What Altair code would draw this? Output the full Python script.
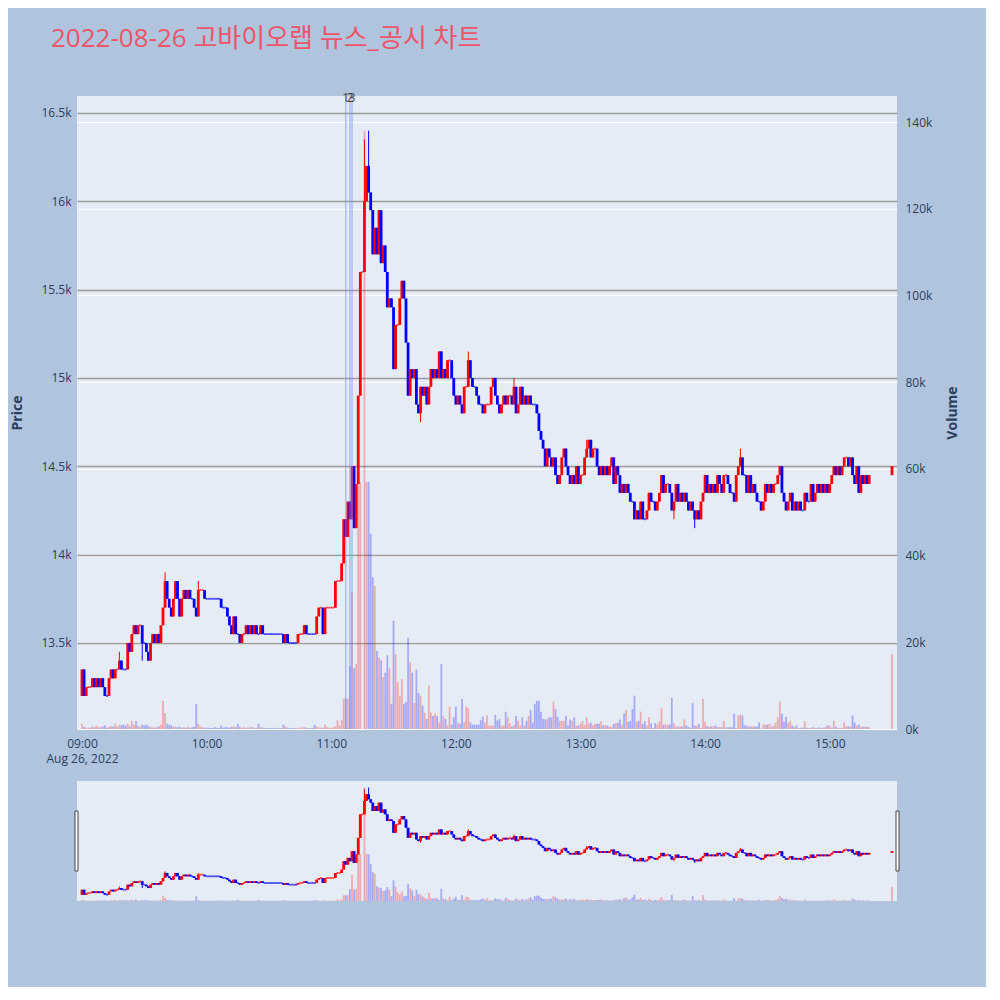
import pandas as pd
import altair as alt

# %%
# 1분봉 종가 (09:00 ~ 15:19), 시가는 직전 종가
first_open = 13200
closes = [
    13350, 13200, 13250, 13250, 13250, 13300, 13250, 13300, 13250, 13300,
    13250, 13200, 13200, 13300, 13350, 13300, 13350, 13350, 13400, 13350,
    13350, 13350, 13500, 13450, 13550, 13600, 13550, 13600, 13600, 13500,
    13500, 13450, 13400, 13500, 13550, 13500, 13550, 13500, 13600, 13700,
    13850, 13750, 13700, 13650, 13750, 13850, 13750, 13650, 13750, 13800,
    13750, 13800, 13750, 13750, 13700, 13650, 13800, 13800, 13800, 13750,
    13750, 13750, 13750, 13750, 13750, 13750, 13750, 13700, 13700, 13700,
    13650, 13600, 13550, 13650, 13550, 13550, 13500, 13550, 13550, 13600,
    13550, 13600, 13550, 13600, 13550, 13550, 13600, 13550, 13550, 13550,
    13550, 13550, 13550, 13550, 13550, 13550, 13550, 13500, 13550, 13500,
    13500, 13500, 13500, 13500, 13550, 13550, 13550, 13600, 13550, 13550,
    13550, 13550, 13550, 13650, 13700, 13700, 13550, 13700, 13700, 13700,
    13700, 13700, 13850, 13850, 13850, 13950, 14200, 14100, 14300, 14200,
    14500, 14150, 14400, 14900, 15600, 15600, 16000, 16200, 16050, 15950,
    15700, 15850, 15700, 15950, 15650, 15750, 15600, 15400, 15450, 15400,
    15050, 15300, 15300, 15450, 15550, 15450, 15200, 14900, 15050, 15000,
    15050, 14850, 14800, 14950, 14900, 14950, 14850, 14950, 15050, 15000,
    15050, 15000, 15150, 15000, 15050, 15000, 15100, 15100, 15000, 14900,
    14850, 14900, 14850, 14800, 14950, 14950, 15100, 15000, 14950, 14950,
    14900, 14850, 14850, 14800, 14850, 14850, 14850, 14950, 15000, 14900,
    14850, 14800, 14850, 14900, 14850, 14900, 14900, 14850, 14950, 14800,
    14850, 14950, 14850, 14900, 14850, 14900, 14850, 14850, 14850, 14800,
    14700, 14650, 14600, 14500, 14600, 14550, 14500, 14550, 14450, 14400,
    14450, 14550, 14600, 14500, 14450, 14400, 14450, 14400, 14500, 14400,
    14450, 14450, 14550, 14600, 14650, 14550, 14600, 14600, 14500, 14450,
    14500, 14450, 14500, 14450, 14500, 14550, 14400, 14500, 14450, 14350,
    14400, 14350, 14400, 14350, 14300, 14300, 14200, 14250, 14200, 14300,
    14200, 14200, 14250, 14350, 14300, 14300, 14250, 14300, 14350, 14450,
    14350, 14400, 14400, 14350, 14250, 14300, 14400, 14300, 14350, 14300,
    14350, 14300, 14250, 14300, 14250, 14200, 14250, 14200, 14300, 14350,
    14450, 14350, 14400, 14350, 14400, 14350, 14450, 14400, 14350, 14450,
    14450, 14400, 14350, 14350, 14300, 14450, 14500, 14550, 14450, 14450,
    14350, 14450, 14350, 14400, 14350, 14300, 14300, 14250, 14300, 14400,
    14350, 14400, 14350, 14400, 14400, 14450, 14500, 14350, 14300, 14250,
    14300, 14350, 14250, 14300, 14250, 14300, 14250, 14250, 14350, 14300,
    14300, 14400, 14300, 14350, 14400, 14350, 14400, 14350, 14400, 14350,
    14400, 14450, 14500, 14450, 14500, 14450, 14500, 14550, 14550, 14500,
    14550, 14450, 14400, 14500, 14350, 14450, 14400, 14450, 14400, 14450,
]
# 분당 거래량 (천 주)
volumes_k = [
    1.2, 0.5, 0.3, 0.3, 0.3, 0.6, 0.4, 0.8, 0.4, 0.5,
    0.6, 0.8, 0.3, 0.5, 0.7, 0.6, 1.2, 0.5, 1.0, 0.9,
    1.0, 0.8, 1.2, 0.6, 1.8, 1.0, 1.8, 0.7, 0.5, 1.0,
    0.8, 1.0, 0.6, 0.5, 0.4, 0.3, 0.5, 0.6, 1.0, 6.5,
    3.7, 1.2, 1.0, 0.8, 0.6, 0.5, 0.4, 0.5, 0.3, 0.4,
    0.3, 0.5, 0.3, 0.4, 0.5, 5.8, 1.2, 0.6, 0.4, 0.3,
    0.3, 0.3, 0.2, 0.3, 0.4, 0.3, 0.2, 0.8, 0.3, 0.4,
    0.4, 0.3, 0.5, 0.6, 0.4, 1.2, 0.5, 0.3, 0.4, 0.3,
    0.3, 0.5, 0.4, 0.3, 0.3, 1.2, 0.5, 0.3, 0.2, 0.2,
    0.2, 0.3, 0.2, 0.2, 0.3, 0.2, 0.2, 1.0, 0.6, 0.3,
    0.2, 0.2, 0.2, 0.2, 0.3, 0.4, 0.3, 0.5, 0.3, 0.2,
    0.2, 0.3, 1.0, 0.6, 0.4, 0.3, 0.3, 1.0, 0.4, 0.3,
    0.3, 0.4, 0.6, 2.0, 0.8, 2.0, 7.0, 7.0, 7.0, 14.6,
    31.5, 14.0, 15.0, 75.0, 57.0, 0.0, 138.0, 57.0, 57.0, 45.0,
    35, 33, 18, 16.5, 15.8, 12, 13, 17, 14, 5.8,
    25, 17.3, 10.8, 7.7, 11.5, 5.8, 6.2, 21, 15.4, 13,
    6, 13.7, 8.3, 7.7, 5.4, 3.8, 2.3, 10, 3.8, 3,
    3.5, 3, 1.5, 15, 2.9, 2.3, 0.8, 5.2, 1, 2.7,
    5.2, 1.5, 1.2, 6.9, 1.7, 5.2, 4.8, 1.5, 1, 1,
    1, 1, 2, 2.9, 1.5, 3.2, 0.8, 0.8, 0.8, 3.3,
    2, 2.3, 0.8, 0.8, 4, 2.7, 1.3, 0.6, 1, 3,
    1.9, 0.8, 2.7, 0.8, 1.9, 3, 4.4, 1.5, 5.8, 6.5,
    6.5, 4, 2.3, 2.2, 2.3, 2.7, 2.7, 6.3, 4.6, 2.8,
    1.9, 1.9, 1.9, 3, 0.8, 2.2, 1.9, 2.7, 0.8, 0.8,
    1.3, 1.8, 0.9, 2.7, 1.3, 1.5, 0.8, 1.2, 1.2, 1.2,
    1.8, 0.8, 0.9, 0.8, 0.6, 0.5, 1.2, 1.4, 1.4, 2.2,
    1, 3.6, 4.4, 1.7, 1.9, 4.6, 7.7, 1.7, 1.9, 4,
    1.2, 1.8, 0.8, 2.7, 1.3, 0.2, 1.4, 1, 1.8, 4.8,
    1, 1, 1, 1, 7.2, 1.3, 0.6, 0.6, 0.6, 0.6,
    2.2, 0.8, 0.5, 0.3, 6, 0.8, 0.8, 1.2, 0.3, 7,
    1.7, 0.6, 0.6, 0.6, 0.6, 0.8, 0.5, 0.4, 0.4, 1.9,
    0.4, 0.4, 0.4, 0.4, 3.5, 0.2, 3.1, 3.3, 3.1, 0.8,
    0.8, 0.6, 0.6, 0.6, 0.6, 0.6, 1.5, 0.1, 1, 1,
    1, 1.2, 0.5, 0.8, 1.5, 2.7, 6.3, 3.5, 1.7, 2.8,
    1.5, 1.8, 0.8, 0.5, 0.8, 0.2, 0.3, 0.3, 1.8, 0.3,
    0.2, 0.3, 0.4, 0.3, 0.3, 0.4, 0.2, 0.3, 0.5, 0.8,
    0.8, 0.3, 1.9, 0.5, 0.2, 0.2, 0.3, 1.5, 0.6, 0.6,
    0.6, 3.1, 1.5, 0.8, 1, 0.5, 0.5, 0.5, 0.5, 0.5,
]
# 15:30 동시호가
close_1530 = 14500
volume_1530_k = 17.3

# 꼬리 (분, 고가/저가)
wick_minutes = [18, 29, 40, 56, 136, 138, 154, 163, 186, 208, 243, 285, 295, 317]
wick_prices = [13450, 13400, 13900, 13850, 16350, 16400, 15550, 14750, 15150, 15000,
               14650, 14200, 14150, 14600]

# 뉴스/공시 시점
news_times = ['11:07', '11:09', '11:10']
news_labels = ['1', '2', '3']

# %%
minutes = list(range(len(closes))) + [390]
all_close = closes + [close_1530]
all_vol = volumes_k + [volume_1530_k]
opens = [first_open] + all_close[:-1]
wicks = dict(zip(wick_minutes, wick_prices))

rows = []
prev_dir = 'up'
for m, o, c, v in zip(minutes, opens, all_close, all_vol):
    d = 'up' if c > o else ('down' if c < o else prev_dir)
    prev_dir = d
    hi, lo = max(o, c), min(o, c)
    w = wicks.get(m)
    if w is not None:
        hi, lo = max(hi, w), min(lo, w)
    t = pd.Timestamp('2022-08-26 09:00') + pd.Timedelta(minutes=m)
    rows.append({'time': t.strftime('%Y-%m-%dT%H:%M:%S'), 'open': o, 'close': c,
                 'high': hi, 'low': lo, 'volume': v * 1000, 'dir': d,
                 'flat': o == c})
df = pd.DataFrame(rows)

news = pd.DataFrame({'time': ['2022-08-26T' + t + ':00' for t in news_times],
                     'label': news_labels})
handles = pd.DataFrame({'side': ['left', 'right']})

# %%
x_scale = alt.Scale(domain=['2022-08-26T09:00:00', '2022-08-26T15:30:00'], type='time')
price_scale = alt.Scale(domain=[13013, 16596], zero=False, nice=False)
vol_scale = alt.Scale(domain=[0, 146000], nice=False)
color_enc = alt.Color('dir:N', scale=alt.Scale(domain=['up', 'down'], range=['#ff0000', '#0000ff']),
                      legend=None)

x_axis = alt.Axis(title=None, format='%H:%M', tickCount='hour', labelFlush=False,
                  labelPadding=9, labelLineHeight=15, grid=False,
                  labelExpr="hours(datum.value) == 9 ? ['09:00', 'Aug 26, 2022'] : timeFormat(datum.value, '%H:%M')")


def candle_layers(main):
    base = alt.Chart(df)
    x_enc = alt.X('time:T', scale=x_scale, axis=x_axis if main else None)
    if main:
        vol_axis = alt.Axis(orient='right', values=list(range(0, 140001, 20000)), format='~s',
                            title='Volume', titleAngle=270, titlePadding=28, labelPadding=8,
                            grid=True, gridColor='white', gridWidth=1)
        price_axis = alt.Axis(orient='left', values=list(range(13500, 16501, 500)), format='~s',
                              title='Price', titlePadding=16, labelPadding=6,
                              grid=True, gridColor='#9a9a9a', gridWidth=1.3)
    else:
        vol_axis = None
        price_axis = None

    vol = base.mark_bar(size=1.8, opacity=0.28, clip=True).encode(
        x=x_enc,
        y=alt.Y('volume:Q', scale=vol_scale, axis=vol_axis),
        color=color_enc
    )
    wick = base.mark_rule(strokeWidth=1, clip=True).encode(
        x=x_enc,
        y=alt.Y('low:Q', scale=price_scale, axis=price_axis),
        y2='high:Q',
        color=color_enc
    )
    body = base.mark_bar(size=2.8, clip=True).encode(
        x=x_enc,
        y=alt.Y('open:Q', scale=price_scale),
        y2='close:Q',
        color=color_enc
    )
    flat = base.transform_filter('datum.flat').mark_tick(
        orient='horizontal', size=2, thickness=1.8, clip=True).encode(
        x=x_enc,
        y=alt.Y('close:Q', scale=price_scale),
        color=color_enc
    )
    return vol, [wick, body, flat]


vol_main, price_main = candle_layers(True)

news_rule = alt.Chart(news).mark_rule(color='#7b96e6', strokeWidth=1.5, opacity=0.55).encode(
    x=alt.X('time:T', scale=x_scale)
)
news_text = alt.Chart(news).mark_text(fontSize=12, color='#444444', baseline='middle',
                                      font='Open Sans').encode(
    x=alt.X('time:T', scale=x_scale),
    y=alt.value(2),
    text='label:N'
)

main = alt.layer(
    vol_main, alt.layer(*price_main, news_rule, news_text)
).resolve_scale(y='independent').properties(width=820, height=633)

vol_mini, price_mini = candle_layers(False)

slider = alt.layer(
    vol_mini, alt.layer(*price_mini)
).resolve_scale(y='independent').properties(width=820, height=120)

# 레인지 슬라이더 손잡이
slider_handles = alt.layer(
    alt.Chart(handles).transform_filter("datum.side == 'left'").mark_rect(
        fill='white', stroke='#444444', strokeWidth=1).encode(
        x=alt.value(-2), x2=alt.value(1), y=alt.value(30), y2=alt.value(90)),
    alt.Chart(handles).transform_filter("datum.side == 'right'").mark_rect(
        fill='white', stroke='#444444', strokeWidth=1).encode(
        x=alt.value(819), x2=alt.value(822), y=alt.value(30), y2=alt.value(90)),
).properties(width=820, height=120)

slider_full = alt.layer(slider, slider_handles)

chart = alt.vconcat(main, slider_full, spacing=17).properties(
    title=alt.TitleParams(
        text='2022-08-26 고바이오랩 뉴스_공시 차트',
        anchor='start', dx=40, offset=40,
        fontSize=26, fontWeight='normal',
        font='Open Sans, Noto Sans CJK KR', color='#EB5569'
    ),
    background='#B0C4DE',
    padding={'left': 2, 'top': 18, 'right': 26, 'bottom': 86}
).configure_view(
    fill='#E5ECF6',
    strokeWidth=0
).configure_axis(
    labelFont='Open Sans',
    labelFontSize=12,
    labelColor='#2a3f5f',
    titleFont='Open Sans',
    titleFontSize=14,
    titleColor='#2a3f5f',
    titleFontWeight='bold',
    ticks=False,
    domain=False
)

chart.save('out.html', embed_options={'renderer': 'svg', 'actions': False})
